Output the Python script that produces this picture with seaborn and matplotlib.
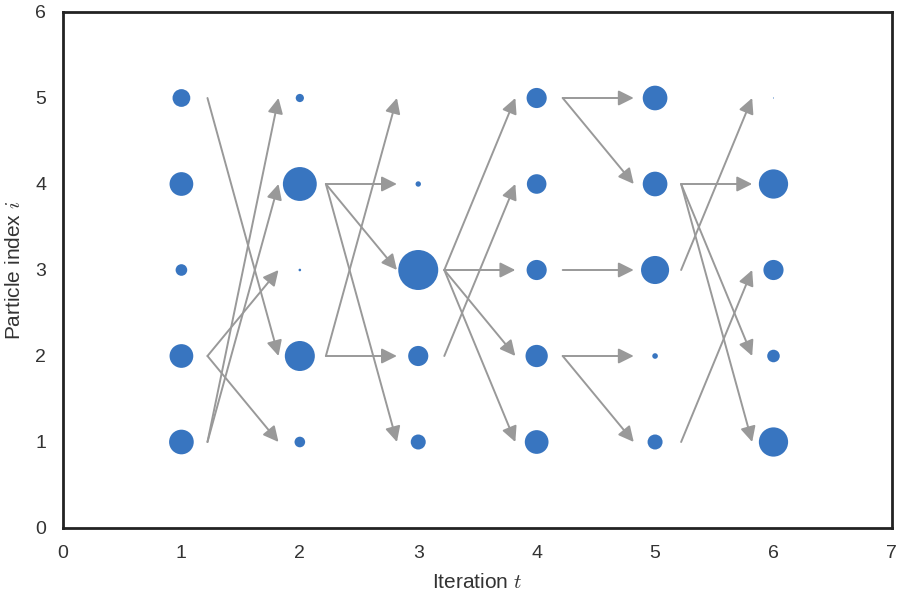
import matplotlib
matplotlib.use("Agg")
import matplotlib.pyplot as plt
import seaborn as sns
import pandas as pd

# particle weights per iteration, listed for particle index 1..5
iterations = [1, 2, 3, 4, 5, 6]
particles = [1, 2, 3, 4, 5]
weights_t1 = [0.27, 0.25, 0.06, 0.25, 0.14]
weights_t2 = [0.05, 0.40, 0.003, 0.51, 0.03]
weights_t3 = [0.10, 0.18, 0.71, 0.013, 0.0]
weights_t4 = [0.25, 0.22, 0.18, 0.17, 0.18]
weights_t5 = [0.10, 0.014, 0.35, 0.27, 0.27]
weights_t6 = [0.38, 0.07, 0.18, 0.38, 0.0005]

# ancestor (index at t-1) of each particle 1..5 at iteration t
ancestors_t2 = [2, 5, 2, 1, 1]
ancestors_t3 = [4, 2, 4, 4, 2]
ancestors_t4 = [3, 3, 3, 2, 3]
ancestors_t5 = [2, 2, 3, 5, 5]
ancestors_t6 = [4, 4, 1, 4, 3]

all_weights = [weights_t1, weights_t2, weights_t3, weights_t4, weights_t5, weights_t6]
all_ancestors = [ancestors_t2, ancestors_t3, ancestors_t4, ancestors_t5, ancestors_t6]

rows = []
for t, w in zip(iterations, all_weights):
    for i, wi in zip(particles, w):
        rows.append({"t": t, "i": i, "w": wi})
df = pd.DataFrame(rows)

sns.set_theme(style="white")
plt.rcParams["font.family"] = ["Liberation Sans", "DejaVu Sans"]
plt.rcParams["mathtext.fontset"] = "cm"

fig = plt.figure(figsize=(9, 6), dpi=100)
ax = fig.add_axes([0.07, 0.12, 0.921, 0.86])

sns.scatterplot(data=df, x="t", y="i", size="w", sizes=(0, 1168), size_norm=(0, 1),
                color="#3875c0", edgecolor="none", legend=False, ax=ax, zorder=3)

# resampling arrows
for t, anc in zip(iterations[1:], all_ancestors):
    for i, a in zip(particles, anc):
        ax.annotate("", xy=(t - 0.18, i), xytext=(t - 1 + 0.22, a),
                    arrowprops=dict(arrowstyle="-|>", color="#999999", lw=1.4,
                                    mutation_scale=23, shrinkA=0, shrinkB=0))

ax.set_xlim(0, 7)
ax.set_ylim(0, 6)
ax.set_xticks(range(0, 8))
ax.set_yticks(range(0, 7))
ax.tick_params(labelsize=14, colors="#333333", pad=6)
ax.set_xlabel("Iteration $t$", fontsize=15, color="#333333", labelpad=8)
ax.set_ylabel("Particle index $i$", fontsize=15, color="#333333", labelpad=8)
for s in ax.spines.values():
    s.set_color("#222222")
    s.set_linewidth(2)

fig.savefig("out.png", dpi=100)
